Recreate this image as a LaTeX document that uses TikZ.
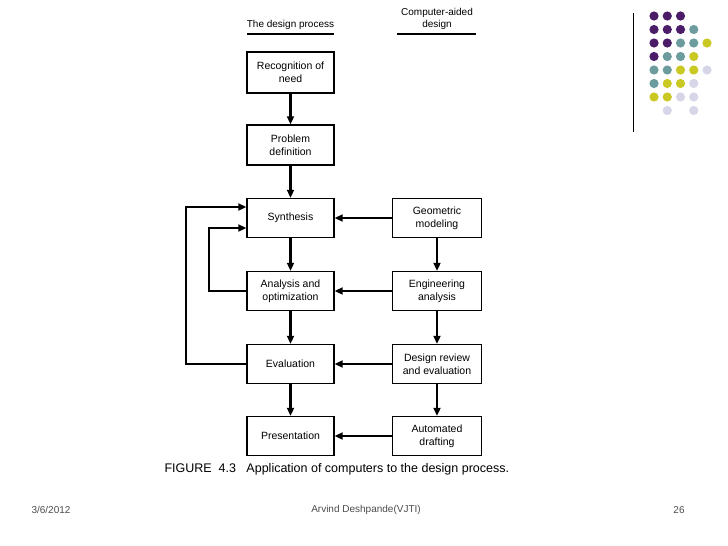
\documentclass[tikz,border=0pt]{standalone}
\usepackage{fontspec}
\setmainfont{Liberation Sans}
\usetikzlibrary{arrows.meta}

% logo dot colours
\definecolor{P}{RGB}{75,28,104}
\definecolor{T}{RGB}{108,156,158}
\definecolor{Y}{RGB}{202,200,34}
\definecolor{L}{RGB}{214,214,232}
\def\nodot{N}

\begin{document}
\begin{tikzpicture}[x=1pt, y=-1pt,
		box/.style={draw, line width=1.4pt, minimum width=87pt, minimum height=39pt, inner sep=0pt, align=center, font=\fontsize{10.5}{13}\selectfont},
		cad/.style={box, minimum width=89pt},
		head/.style={align=center, font=\fontsize{10}{12}\selectfont},
		arr/.style={draw, line width=2.3pt, -{Triangle[length=8pt, width=7pt]}},
		foot/.style={text=black!70, font=\fontsize{10}{12}\selectfont}]
		\useasboundingbox (0,0) rectangle (728,546);
		
		% headings
		\node[head] (hproc) at (290.5,25) {The design process};
		\node[head] (hcad) at (437,19) {Computer-aided\\design};
		\draw[line width=1.3pt] (247,34) -- (334,34);
		\draw[line width=1.3pt] (397,34) -- (476,34);
		
		% design process
		\node[box, minimum height=41pt] (need) at (290.5,72.5) {Recognition of\\need};
		\node[box, minimum height=40pt] (def) at (290.5,145) {Problem\\definition};
		\node[box] (synth) at (290.5,218) {Synthesis};
		\node[box] (anal) at (290.5,291) {Analysis and\\optimization};
		\node[box] (eval) at (290.5,364) {Evaluation};
		\node[box] (pres) at (290.5,436) {Presentation};
		
		% computer-aided design
		\node[cad] (geo) at (437,218) {Geometric\\modeling};
		\node[cad] (eng) at (437,291) {Engineering\\analysis};
		\node[cad] (rev) at (437,364) {Design review\\and evaluation};
		\node[cad] (draft) at (437,436) {Automated\\drafting};
		
		\path[arr]
		(need) edge (def)
		(def) edge (synth)
		(synth) edge (anal)
		(anal) edge (eval)
		(eval) edge (pres)
		(geo) edge (synth)
			edge (eng)
		(eng) edge (anal)
			edge (rev)
		(rev) edge (eval)
			edge (draft)
		(draft) edge (pres);
		
		% feedback loops
		\draw[arr] (eval.west) -- ++(-60,0) |- ([yshift=11pt]synth.west);
		\draw[arr] (anal.west) -- ++(-37,0) |- ([yshift=-10pt]synth.west);
		
		\node[font=\fontsize{12.5}{15}\selectfont, anchor=west] (cap) at (161,469) {FIGURE~~4.3~~~Application of computers to the design process.};
		
		% footer
		\node[foot, anchor=west] (date) at (28,510) {3/6/2012};
		\node[foot] (auth) at (366,510) {Arvind Deshpande(VJTI)};
		\node[foot] (page) at (679,510) {26};
		
		% logo
		\draw[line width=0.9pt] (633,13) -- (633,132);
		\foreach \row/\cols in {1/{P,P,P}, 2/{P,P,P,T}, 3/{P,P,T,T,Y}, 4/{P,T,T,Y}, 5/{T,T,Y,Y,L}, 6/{T,Y,Y,L}, 7/{Y,Y,L,L}, 8/{N,L,N,L}}
			\foreach \c [count=\i] in \cols {
				\ifx\c\nodot\else
				\fill[\c] ({654+13.25*(\i-1)},{16+13.5*(\row-1)}) circle (4.6);
				\fi
			};
	\end{tikzpicture}
\end{document}
